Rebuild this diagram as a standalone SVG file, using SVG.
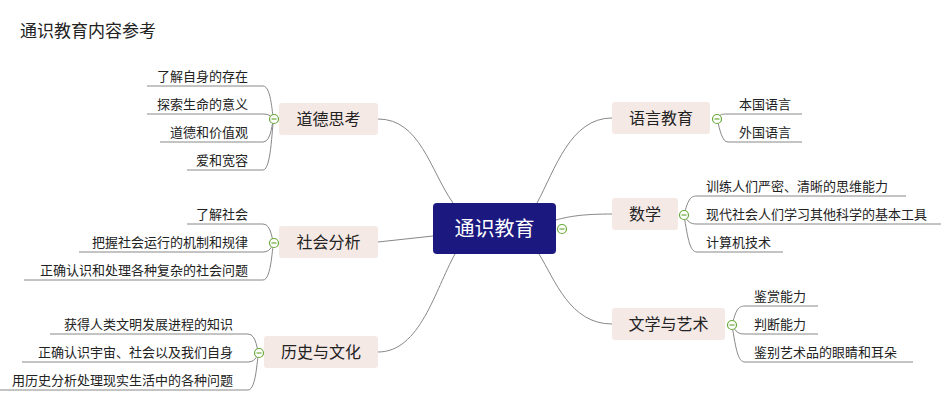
<svg xmlns="http://www.w3.org/2000/svg" width="942" height="410" viewBox="0 0 942 410">
<style>
text{font-family:"Noto Sans CJK SC","Noto Sans",sans-serif;fill:#222}
.l{font-size:13px}
.m{font-size:16px}
.b{fill:#f5e9e6}
.c{fill:none;stroke:#888;stroke-width:1}
.t{fill:#fff;stroke:#6aaa3a;stroke-width:1.2}
.tm{stroke:#6aaa3a;stroke-width:1.2}
</style>
<rect width="942" height="410" fill="#fff"/>
<text x="20" y="37" font-size="17">通识教育内容参考</text>
<g id="connectors">
<path class="c" d="M378,119 C420,119 430,170 453,203"/>
<path class="c" d="M378,242 L433,236"/>
<path class="c" d="M378,352 C420,352 435,290 455,254"/>
<path class="c" d="M612,118 C570,118 555,170 537,203"/>
<path class="c" d="M612,214 C585,214 570,216 556,220"/>
<path class="c" d="M612,324 C570,324 555,280 539,254"/>
<path class="c" d="M147,86 H263 C272,86 272,119 274,119 M147,114 H263 C272,114 272,119 274,119 M160,142 H263 C272,142 272,119 274,119 M187,170 H263 C272,170 272,119 274,119"/>
<path class="c" d="M187,224 H263 C272,224 272,243 274,243 M79,252 H263 C272,252 272,243 274,243 M24,280 H263 C272,280 272,243 274,243"/>
<path class="c" d="M50,334 H248 C257,334 257,353 259,353 M22,362 H248 C257,362 257,353 259,353 M0,390 H248 C257,390 257,353 259,353"/>
<path class="c" d="M717,119 C720,114 722,114 728,114 H802 M717,119 C720,130 722,142 728,142 H802"/>
<path class="c" d="M684,215 C688,200 690,196 697,196 H906 M684,215 C688,222 690,224 697,224 H941 M684,215 C688,240 690,252 697,252 H783"/>
<path class="c" d="M732,325 C736,310 738,306 745,306 H818 M732,325 C736,332 738,334 745,334 H818 M732,325 C736,350 738,362 745,362 H913"/>
</g>
<g id="center"><rect x="433" y="203" width="123" height="51" rx="4" fill="#1b1880"/><text x="494.5" y="235.5" font-size="20" text-anchor="middle" style="fill:#fff">通识教育</text>
<circle class="t" cx="562" cy="229" r="4.5"/><line class="tm" x1="559.5" y1="229" x2="564.5" y2="229"/></g>
<g id="n1"><rect class="b" x="279" y="103" width="99" height="32" rx="3"/><text class="m" x="328.5" y="125" text-anchor="middle">道德思考</text>
<circle class="t" cx="274" cy="119" r="4.5"/><line class="tm" x1="271.5" y1="119" x2="276.5" y2="119"/>
<g class="l" text-anchor="end"><text x="248" y="81">了解自身的存在</text><text x="248" y="109">探索生命的意义</text><text x="248" y="137">道德和价值观</text><text x="248" y="165">爱和宽容</text></g></g>
<g id="n2"><rect class="b" x="279" y="226" width="99" height="32" rx="3"/><text class="m" x="328.5" y="248" text-anchor="middle">社会分析</text>
<circle class="t" cx="274" cy="243" r="4.5"/><line class="tm" x1="271.5" y1="243" x2="276.5" y2="243"/>
<g class="l" text-anchor="end"><text x="248" y="219">了解社会</text><text x="248" y="247">把握社会运行的机制和规律</text><text x="248" y="275">正确认识和处理各种复杂的社会问题</text></g></g>
<g id="n3"><rect class="b" x="264" y="336" width="114" height="32" rx="3"/><text class="m" x="321" y="358" text-anchor="middle">历史与文化</text>
<circle class="t" cx="259" cy="353" r="4.5"/><line class="tm" x1="256.5" y1="353" x2="261.5" y2="353"/>
<g class="l" text-anchor="end"><text x="233" y="329">获得人类文明发展进程的知识</text><text x="233" y="357">正确认识宇宙、社会以及我们自身</text><text x="233" y="385">用历史分析处理现实生活中的各种问题</text></g></g>
<g id="n4"><rect class="b" x="612" y="102" width="98" height="32" rx="3"/><text class="m" x="661" y="124" text-anchor="middle">语言教育</text>
<circle class="t" cx="717" cy="119" r="4.5"/><line class="tm" x1="714.5" y1="119" x2="719.5" y2="119"/>
<g class="l"><text x="739" y="109">本国语言</text><text x="739" y="137">外国语言</text></g></g>
<g id="n5"><rect class="b" x="612" y="198" width="66" height="32" rx="3"/><text class="m" x="645" y="220" text-anchor="middle">数学</text>
<circle class="t" cx="684" cy="215" r="4.5"/><line class="tm" x1="681.5" y1="215" x2="686.5" y2="215"/>
<g class="l"><text x="706" y="191">训练人们严密、清晰的思维能力</text><text x="706" y="219">现代社会人们学习其他科学的基本工具</text><text x="706" y="247">计算机技术</text></g></g>
<g id="n6"><rect class="b" x="612" y="308" width="113" height="32" rx="3"/><text class="m" x="668.5" y="330" text-anchor="middle">文学与艺术</text>
<circle class="t" cx="732" cy="325" r="4.5"/><line class="tm" x1="729.5" y1="325" x2="734.5" y2="325"/>
<g class="l"><text x="754" y="301">鉴赏能力</text><text x="754" y="329">判断能力</text><text x="754" y="357">鉴别艺术品的眼睛和耳朵</text></g></g>
</svg>
